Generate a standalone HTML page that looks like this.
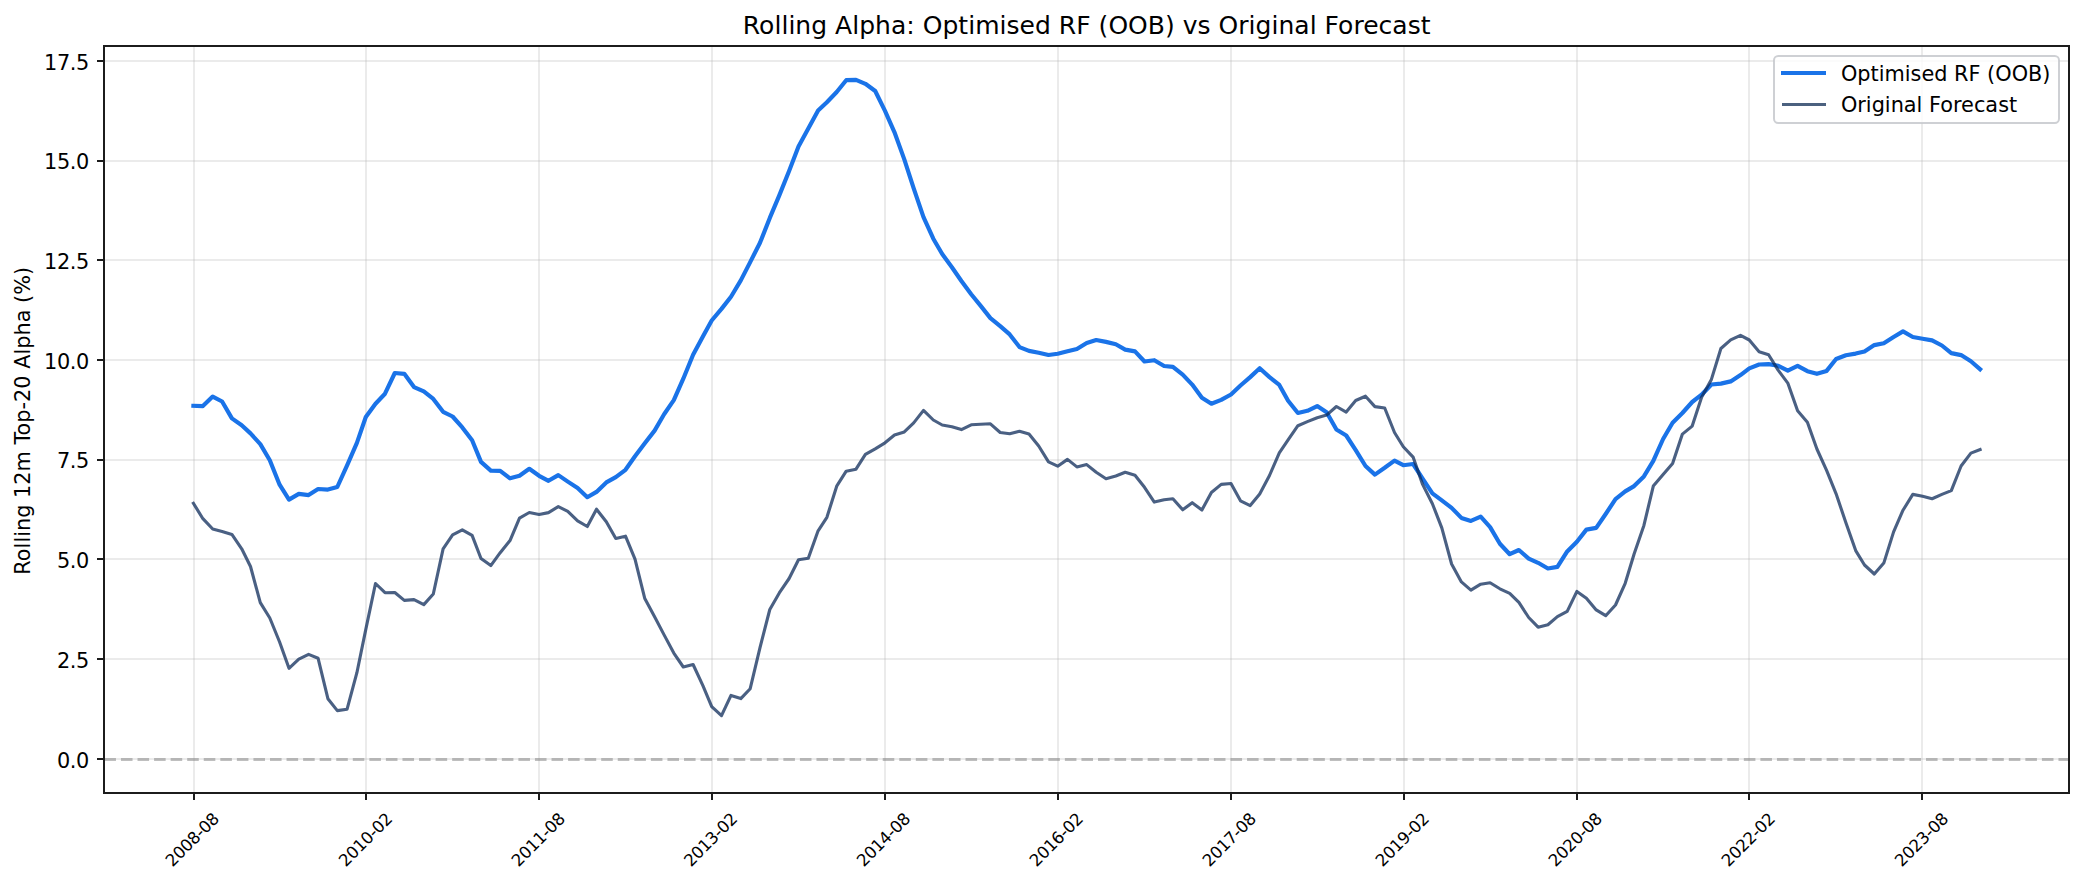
<!DOCTYPE html>
<html lang="en"><head><meta charset="utf-8"><title>Rolling Alpha: Optimised RF (OOB) vs Original Forecast</title>
<style>
html,body{margin:0;padding:0;background:#fff;}
body{width:2084px;height:884px;overflow:hidden;}
svg{display:block;}
text{font-family:"DejaVu Sans", "Liberation Sans", sans-serif;fill:#000;}
.t10{font-size:20.83px;}
.t8{font-size:16.67px;}
.t12{font-size:25px;}
</style></head><body>
<svg width="2084" height="884" viewBox="0 0 2084 884">
<rect x="0" y="0" width="2084" height="884" fill="#ffffff"/>

<g fill="#b0b0b0" fill-opacity="0.25" shape-rendering="crispEdges">
<rect x="193" y="46" width="2" height="747"/>
<rect x="365" y="46" width="2" height="747"/>
<rect x="538" y="46" width="2" height="747"/>
<rect x="711" y="46" width="2" height="747"/>
<rect x="884" y="46" width="2" height="747"/>
<rect x="1057" y="46" width="2" height="747"/>
<rect x="1230" y="46" width="2" height="747"/>
<rect x="1403" y="46" width="2" height="747"/>
<rect x="1576" y="46" width="2" height="747"/>
<rect x="1748" y="46" width="2" height="747"/>
<rect x="1921" y="46" width="2" height="747"/>
<rect x="104" y="758" width="1965" height="2"/>
<rect x="104" y="658" width="1965" height="2"/>
<rect x="104" y="558" width="1965" height="2"/>
<rect x="104" y="459" width="1965" height="2"/>
<rect x="104" y="359" width="1965" height="2"/>
<rect x="104" y="259" width="1965" height="2"/>
<rect x="104" y="160" width="1965" height="2"/>
<rect x="104" y="60" width="1965" height="2"/>
</g>
<line x1="104.4" y1="759.5" x2="2069" y2="759.5" stroke="#808080" stroke-opacity="0.5" stroke-width="3.12" stroke-dasharray="11.56 5"/>
<path d="M193.4 405.8 L202.9 406.1 L212.7 396.6 L222.1 401.5 L231.9 418.4 L241.7 425.3 L250.5 433.4 L260.3 444.1 L269.8 460.2 L279.6 484.7 L289.0 499.6 L298.8 493.9 L308.6 495.1 L318.1 489.0 L327.9 489.6 L337.3 487.0 L347.1 465.4 L356.9 442.9 L365.8 417.0 L375.5 403.7 L385.0 393.7 L394.8 373.0 L404.3 373.8 L414.0 387.1 L423.8 391.4 L433.3 398.9 L443.1 411.8 L452.6 416.5 L462.3 427.4 L472.1 440.3 L481.0 461.9 L490.8 470.6 L500.2 470.9 L510.0 478.3 L519.5 475.7 L529.3 468.8 L539.1 475.8 L548.5 480.8 L558.3 475.1 L567.8 481.6 L577.6 488.0 L587.3 497.2 L596.5 491.9 L606.3 482.4 L615.8 477.2 L625.5 469.8 L635.0 456.3 L644.8 443.2 L654.6 430.6 L664.1 414.3 L673.8 400.1 L683.3 378.7 L693.1 354.8 L702.9 336.4 L711.7 320.5 L721.5 308.9 L731.0 296.7 L740.8 280.4 L750.2 262.1 L760.0 242.8 L769.8 217.9 L779.3 195.4 L789.1 171.0 L798.5 146.5 L808.3 128.6 L818.1 110.5 L826.9 102.2 L836.7 92.0 L846.2 80.2 L856.0 79.8 L865.4 83.8 L875.2 91.0 L885.0 110.9 L894.5 132.3 L904.3 159.4 L913.7 188.3 L923.5 217.2 L933.3 238.7 L942.2 254.0 L951.9 267.2 L961.4 281.0 L971.2 294.3 L980.7 305.9 L990.4 318.1 L1000.2 326.1 L1009.7 334.4 L1019.5 347.1 L1029.0 350.9 L1038.7 352.7 L1048.5 355.0 L1057.7 353.7 L1067.5 351.3 L1076.9 349.0 L1086.7 343.0 L1096.2 340.0 L1106.0 341.9 L1115.8 344.3 L1125.2 349.6 L1135.0 351.4 L1144.5 361.5 L1154.3 360.2 L1164.1 366.0 L1172.9 366.8 L1182.7 374.6 L1192.2 384.6 L1201.9 397.7 L1211.4 403.7 L1221.2 399.9 L1231.0 394.5 L1240.5 385.5 L1250.2 377.1 L1259.7 368.3 L1269.5 377.1 L1279.3 384.9 L1288.1 400.8 L1297.9 413.0 L1307.4 410.8 L1317.2 406.1 L1326.6 412.3 L1336.4 429.5 L1346.2 435.5 L1355.7 450.1 L1365.5 466.0 L1374.9 474.6 L1384.7 467.8 L1394.5 460.6 L1403.3 465.2 L1413.1 464.0 L1422.6 478.6 L1432.4 493.3 L1441.8 500.3 L1451.6 507.9 L1461.4 517.9 L1470.9 520.9 L1480.7 516.6 L1490.1 527.1 L1499.9 543.8 L1509.7 554.2 L1518.9 550.0 L1528.7 558.6 L1538.1 562.8 L1547.9 568.5 L1557.4 566.9 L1567.2 551.4 L1576.9 541.8 L1586.4 529.6 L1596.2 527.9 L1605.7 514.0 L1615.5 499.1 L1625.2 491.4 L1634.1 486.1 L1643.9 476.4 L1653.3 460.9 L1663.1 439.0 L1672.6 422.7 L1682.4 413.0 L1692.2 402.0 L1701.6 394.7 L1711.4 384.5 L1720.9 383.6 L1730.7 381.4 L1740.5 375.1 L1749.3 368.4 L1759.1 364.5 L1768.6 364.1 L1778.3 365.8 L1787.8 370.6 L1797.6 365.8 L1807.4 371.2 L1816.9 373.8 L1826.6 370.9 L1836.1 359.0 L1845.9 355.3 L1855.7 353.6 L1864.5 351.4 L1874.3 345.1 L1883.8 343.2 L1893.6 337.0 L1903.0 331.4 L1912.8 337.0 L1922.6 338.7 L1932.1 340.4 L1941.9 345.5 L1951.3 353.1 L1961.1 355.1 L1970.9 361.2 L1980.1 369.2" fill="none" stroke="#1a73e8" stroke-width="4.17" stroke-linejoin="round" stroke-linecap="square"/>
<path d="M193.4 503.3 L202.9 518.7 L212.7 529.0 L222.1 531.5 L231.9 534.4 L241.7 548.8 L250.5 566.5 L260.3 602.6 L269.8 618.0 L279.6 642.0 L289.0 668.3 L298.8 659.2 L308.6 654.4 L318.1 658.3 L327.9 698.7 L337.3 710.6 L347.1 709.2 L356.9 672.7 L365.8 629.4 L375.5 583.5 L385.0 592.7 L394.8 592.5 L404.3 600.4 L414.0 599.6 L423.8 604.6 L433.3 594.0 L443.1 548.8 L452.6 534.8 L462.3 529.8 L472.1 535.4 L481.0 558.5 L490.8 565.6 L500.2 552.7 L510.0 540.6 L519.5 518.1 L529.3 512.5 L539.1 514.5 L548.5 512.6 L558.3 506.6 L567.8 511.4 L577.6 520.9 L587.3 526.5 L596.5 509.2 L606.3 521.7 L615.8 538.5 L625.5 536.2 L635.0 559.2 L644.8 598.6 L654.6 616.7 L664.1 634.9 L673.8 653.1 L683.3 667.0 L693.1 664.5 L702.9 685.6 L711.7 706.6 L721.5 715.7 L731.0 695.4 L740.8 698.6 L750.2 688.7 L760.0 647.6 L769.8 609.5 L779.3 592.9 L789.1 578.5 L798.5 559.8 L808.3 558.3 L818.1 530.8 L826.9 517.3 L836.7 486.2 L846.2 471.2 L856.0 469.2 L865.4 454.4 L875.2 448.8 L885.0 442.8 L894.5 435.0 L904.3 431.9 L913.7 422.9 L923.5 410.4 L933.3 420.0 L942.2 425.0 L951.9 426.7 L961.4 429.6 L971.2 424.8 L980.7 424.2 L990.4 423.8 L1000.2 432.5 L1009.7 433.8 L1019.5 431.2 L1029.0 434.0 L1038.7 446.0 L1048.5 461.9 L1057.7 466.2 L1067.5 459.4 L1076.9 466.9 L1086.7 464.6 L1096.2 472.3 L1106.0 478.7 L1115.8 476.0 L1125.2 472.3 L1135.0 475.2 L1144.5 487.3 L1154.3 502.1 L1164.1 499.8 L1172.9 498.7 L1182.7 509.8 L1192.2 502.7 L1201.9 510.0 L1211.4 492.5 L1221.2 484.4 L1231.0 483.5 L1240.5 500.8 L1250.2 505.6 L1259.7 494.0 L1269.5 475.5 L1279.3 452.9 L1288.1 439.8 L1297.9 425.7 L1307.4 421.6 L1317.2 417.7 L1326.6 415.1 L1336.4 406.5 L1346.2 412.1 L1355.7 400.5 L1365.5 396.2 L1374.9 406.6 L1384.7 408.0 L1394.5 432.5 L1403.3 446.7 L1413.1 457.1 L1422.6 484.4 L1432.4 503.7 L1441.8 527.9 L1451.6 564.0 L1461.4 581.9 L1470.9 590.1 L1480.7 584.2 L1490.1 582.7 L1499.9 588.8 L1509.7 593.3 L1518.9 602.4 L1528.7 617.5 L1538.1 627.2 L1547.9 624.8 L1557.4 616.6 L1567.2 611.4 L1576.9 591.4 L1586.4 598.2 L1596.2 609.9 L1605.7 615.7 L1615.5 605.0 L1625.2 583.3 L1634.1 554.0 L1643.9 525.4 L1653.3 486.1 L1663.1 474.4 L1672.6 463.4 L1682.4 434.1 L1692.2 426.1 L1701.6 397.2 L1711.4 379.4 L1720.9 348.5 L1730.7 339.9 L1740.5 335.3 L1749.3 340.0 L1759.1 351.7 L1768.6 354.8 L1778.3 370.4 L1787.8 383.1 L1797.6 410.8 L1807.4 422.3 L1816.9 449.0 L1826.6 470.4 L1836.1 493.8 L1845.9 522.7 L1855.7 550.6 L1864.5 565.0 L1874.3 574.0 L1883.8 563.1 L1893.6 531.9 L1903.0 510.2 L1912.8 494.4 L1922.6 496.2 L1932.1 498.7 L1941.9 494.4 L1951.3 490.6 L1961.1 466.0 L1970.9 453.1 L1980.1 449.6" fill="none" stroke="#0e2b59" stroke-opacity="0.75" stroke-width="3.12" stroke-linejoin="round" stroke-linecap="square"/>
<g fill="#1c1c1c" shape-rendering="crispEdges">
<rect x="103" y="45" width="2" height="749"/>
<rect x="2068" y="45" width="2" height="749"/>
<rect x="103" y="45" width="1967" height="2"/>
<rect x="103" y="792" width="1967" height="2"/>
<rect x="193" y="793" width="2" height="7"/>
<rect x="365" y="793" width="2" height="7"/>
<rect x="538" y="793" width="2" height="7"/>
<rect x="711" y="793" width="2" height="7"/>
<rect x="884" y="793" width="2" height="7"/>
<rect x="1057" y="793" width="2" height="7"/>
<rect x="1230" y="793" width="2" height="7"/>
<rect x="1403" y="793" width="2" height="7"/>
<rect x="1576" y="793" width="2" height="7"/>
<rect x="1748" y="793" width="2" height="7"/>
<rect x="1921" y="793" width="2" height="7"/>
<rect x="97" y="758" width="7" height="2"/>
<rect x="97" y="658" width="7" height="2"/>
<rect x="97" y="558" width="7" height="2"/>
<rect x="97" y="459" width="7" height="2"/>
<rect x="97" y="359" width="7" height="2"/>
<rect x="97" y="259" width="7" height="2"/>
<rect x="97" y="160" width="7" height="2"/>
<rect x="97" y="60" width="7" height="2"/>
</g>
<text class="t10" x="88.85" y="767.9" text-anchor="end" letter-spacing="-0.4">0.0</text>
<text class="t10" x="88.85" y="667.9" text-anchor="end" letter-spacing="-0.4">2.5</text>
<text class="t10" x="88.85" y="567.9" text-anchor="end" letter-spacing="-0.4">5.0</text>
<text class="t10" x="88.85" y="467.9" text-anchor="end" letter-spacing="-0.4">7.5</text>
<text class="t10" x="88.85" y="368.9" text-anchor="end" letter-spacing="-0.4">10.0</text>
<text class="t10" x="88.85" y="268.9" text-anchor="end" letter-spacing="-0.4">12.5</text>
<text class="t10" x="88.85" y="168.9" text-anchor="end" letter-spacing="-0.4">15.0</text>
<text class="t10" x="88.85" y="69.9" text-anchor="end" letter-spacing="-0.4">17.5</text>
<text class="t8" transform="translate(191.9 839.5) rotate(-45)" text-anchor="middle" y="6.1" letter-spacing="-0.35">2008-08</text>
<text class="t8" transform="translate(365.2 839.5) rotate(-45)" text-anchor="middle" y="6.1" letter-spacing="-0.35">2010-02</text>
<text class="t8" transform="translate(538.0 839.5) rotate(-45)" text-anchor="middle" y="6.1" letter-spacing="-0.35">2011-08</text>
<text class="t8" transform="translate(710.3 839.5) rotate(-45)" text-anchor="middle" y="6.1" letter-spacing="-0.35">2013-02</text>
<text class="t8" transform="translate(883.1 839.5) rotate(-45)" text-anchor="middle" y="6.1" letter-spacing="-0.35">2014-08</text>
<text class="t8" transform="translate(1056.0 839.5) rotate(-45)" text-anchor="middle" y="6.1" letter-spacing="-0.35">2016-02</text>
<text class="t8" transform="translate(1228.9 839.5) rotate(-45)" text-anchor="middle" y="6.1" letter-spacing="-0.35">2017-08</text>
<text class="t8" transform="translate(1401.9 839.5) rotate(-45)" text-anchor="middle" y="6.1" letter-spacing="-0.35">2019-02</text>
<text class="t8" transform="translate(1574.9 839.5) rotate(-45)" text-anchor="middle" y="6.1" letter-spacing="-0.35">2020-08</text>
<text class="t8" transform="translate(1748.0 839.5) rotate(-45)" text-anchor="middle" y="6.1" letter-spacing="-0.35">2022-02</text>
<text class="t8" transform="translate(1921.1 839.5) rotate(-45)" text-anchor="middle" y="6.1" letter-spacing="-0.35">2023-08</text>
<text class="t10" transform="translate(30 420.8) rotate(-90)" text-anchor="middle">Rolling 12m Top-20 Alpha (%)</text>
<text class="t12" x="1086.7" y="33.9" text-anchor="middle" textLength="687.7" lengthAdjust="spacing">Rolling Alpha: Optimised RF (OOB) vs Original Forecast</text>
<rect x="1774" y="56" width="285" height="67" rx="4.2" ry="4.2" fill="#ffffff" fill-opacity="0.8" stroke="#c6c8cc" stroke-opacity="0.85" stroke-width="2"/>
<rect x="1781" y="71" width="45" height="4" fill="#1a73e8" shape-rendering="crispEdges"/>
<rect x="1782" y="103" width="44" height="3" fill="#4b617f" shape-rendering="crispEdges"/>
<text class="t10" x="1840.9" y="81.2">Optimised RF (OOB)</text>
<text class="t10" x="1840.9" y="111.9">Original Forecast</text>
</svg></body></html>
